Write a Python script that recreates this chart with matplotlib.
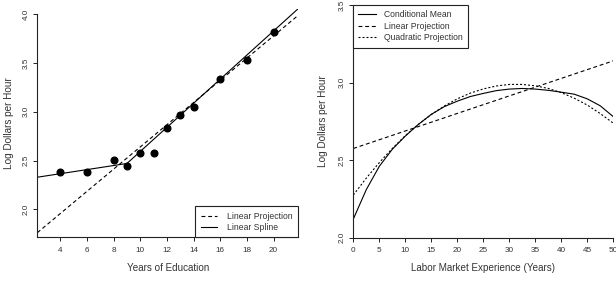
import matplotlib
matplotlib.use("Agg")
import matplotlib.pyplot as plt

plt.rcParams["font.family"] = ["Liberation Sans", "DejaVu Sans"]

# ---- left panel: log wage by years of education ----
educ = [4, 6, 8, 9, 10, 11, 12, 13, 14, 16, 18, 20]
log_wage = [2.38, 2.38, 2.51, 2.44, 2.58, 2.58, 2.83, 2.97, 3.05, 3.34, 3.53, 3.82]
proj_x = [2.275, 21.8]
proj_y = [1.76, 3.984]
spline_x = [2.275, 9, 21.8]
spline_y = [2.329, 2.47, 4.052]
educ_ticks = [4, 6, 8, 10, 12, 14, 16, 18, 20]
left_yticks = [2.0, 2.5, 3.0, 3.5, 4.0]

# ---- right panel: log wage by experience ----
exper = [0, 2.5, 5, 7.5, 10, 12.5, 15, 17.5, 20, 22.5, 25,
         27.5, 30, 32.5, 35, 37.5, 40, 42.5, 45, 47.5, 50]
cond_mean = [2.12, 2.31, 2.46, 2.57, 2.655, 2.73, 2.795, 2.845, 2.88, 2.91, 2.93,
             2.948, 2.958, 2.962, 2.958, 2.95, 2.938, 2.925, 2.895, 2.85, 2.78]
quad_proj = [2.275, 2.384, 2.484, 2.575, 2.658, 2.730, 2.794, 2.849, 2.895, 2.932, 2.959,
             2.978, 2.988, 2.988, 2.979, 2.962, 2.935, 2.899, 2.855, 2.800, 2.738]
lin_x = [0, 50]
lin_y = [2.575, 3.14]
exper_ticks = list(range(0, 51, 5))
right_yticks = [2.0, 2.5, 3.0, 3.5]

TXT = "#333333"
W, H = 616, 285


def style(ax, xticks, yticks):
    for s in ("top", "right"):
        ax.spines[s].set_visible(False)
    for s in ("left", "bottom"):
        ax.spines[s].set_linewidth(0.8)
        ax.spines[s].set_color("#222222")
    ax.set_xticks(xticks)
    ax.set_yticks(yticks)
    ax.set_yticklabels([f"{v:.1f}" for v in yticks])
    ax.tick_params(axis="both", length=3, width=0.7, color="#222222",
                   labelsize=5.9, labelcolor=TXT)
    ax.tick_params(axis="x", pad=3.8)
    ax.tick_params(axis="y", pad=2.5)
    for lb in ax.get_yticklabels():
        lb.set_rotation(90)
        lb.set_va("center")


fig = plt.figure(figsize=(W / 100, H / 100), dpi=100)

# left axes: x 37.3..298 px, y 9.4..237.3 px
axl = fig.add_axes([37.3 / W, 1 - 237.3 / H, (298 - 37.3) / W, (237.3 - 9.4) / H])
axl.plot(proj_x, proj_y, color="black", lw=0.8, dashes=(3.5, 2.5), label="Linear Projection")
axl.plot(spline_x, spline_y, color="black", lw=0.8, label="Linear Spline")
axl.plot(educ, log_wage, "o", color="black", ms=4.8)
axl.set_xlim(2.275, 21.83)
axl.set_ylim(1.713, 4.05)
style(axl, educ_ticks, left_yticks)
axl.spines["left"].set_bounds(1.713, 4.0)
axl.set_xlabel("Years of Education", fontsize=7.1, color=TXT)
axl.set_ylabel("Log Dollars per Hour", fontsize=7.2, color=TXT)
axl.xaxis.label.set_va("center")
axl.yaxis.label.set_va("center")
axl.xaxis.set_label_coords(0.5, -(268 - 237.3) / (237.3 - 9.4))
axl.yaxis.set_label_coords(-28 / (298 - 37.3), 0.5)
lg = axl.legend(loc="lower right", fontsize=6.2, frameon=True, fancybox=False,
                edgecolor="#222222", framealpha=1, borderaxespad=0, borderpad=0.6,
                handlelength=1.9, handletextpad=1.2, labelspacing=0.3)
lg.get_frame().set_linewidth(0.8)
for t in lg.get_texts():
    t.set_color(TXT)

# right axes: x 353.3..613.3 px, y 5..237.7 px
axr = fig.add_axes([353.3 / W, 1 - 237.7 / H, 260 / W, (237.7 - 5) / H])
axr.plot(exper, cond_mean, color="black", lw=0.8, label="Conditional Mean")
axr.plot(lin_x, lin_y, color="black", lw=0.8, dashes=(3.5, 2.5), label="Linear Projection")
axr.plot(exper, quad_proj, color="black", lw=0.8, dashes=(1.8, 1.8), label="Quadratic Projection")
axr.set_xlim(0, 50)
axr.set_ylim(2.0, 3.5)
style(axr, exper_ticks, right_yticks)
axr.set_xlabel("Labor Market Experience (Years)", fontsize=7.1, color=TXT)
axr.set_ylabel("Log Dollars per Hour", fontsize=7.2, color=TXT)
axr.xaxis.label.set_va("center")
axr.yaxis.label.set_va("center")
axr.xaxis.set_label_coords(0.5, -(268 - 237.7) / (237.7 - 5))
axr.yaxis.set_label_coords(-30 / 260, 0.5)
lg = axr.legend(loc="upper left", fontsize=6.2, frameon=True, fancybox=False,
                edgecolor="#222222", framealpha=1, borderaxespad=0, borderpad=0.6,
                handlelength=2.0, handletextpad=1.0, labelspacing=0.3)
lg.get_frame().set_linewidth(0.8)
for t in lg.get_texts():
    t.set_color(TXT)

fig.savefig("out.png", dpi=100)
